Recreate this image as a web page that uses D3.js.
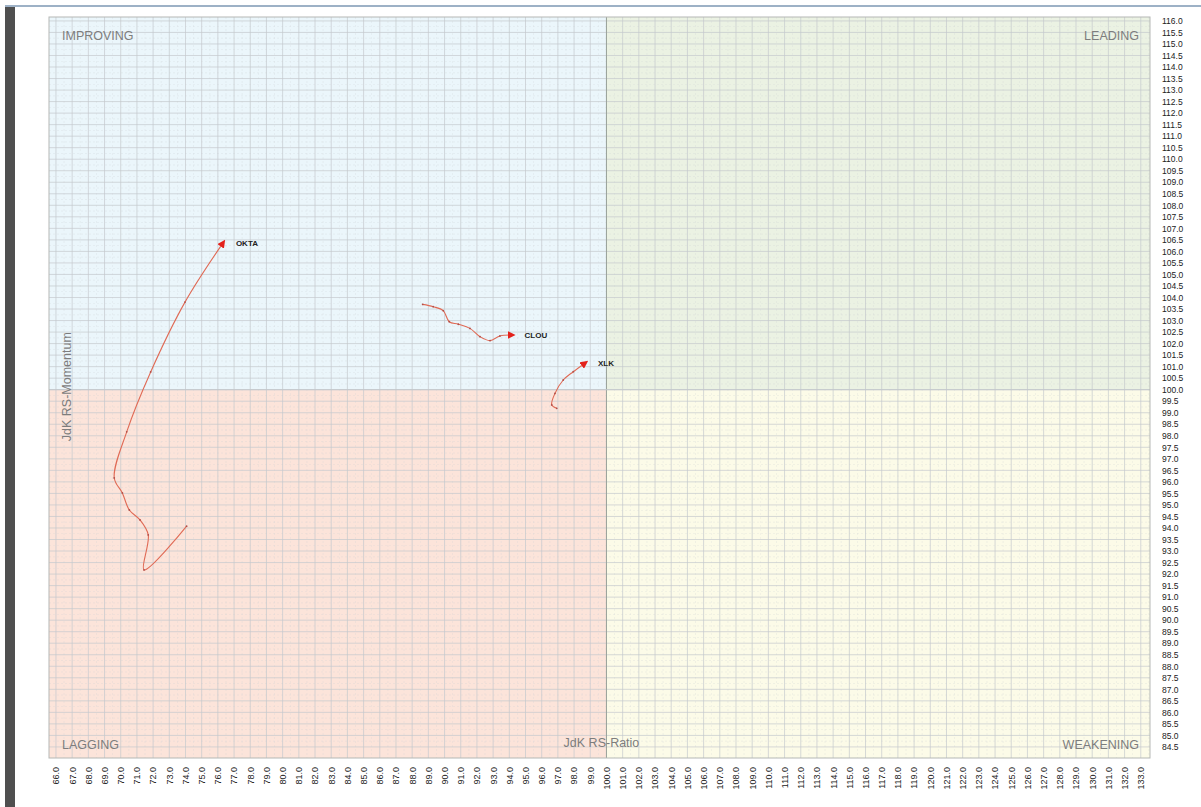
<!DOCTYPE html>
<html>
<head>
<meta charset="utf-8">
<script src="https://cdn.jsdelivr.net/npm/d3@7"></script>
<style>
  body { margin: 0; background: #fff; font-family: "Liberation Sans", Arial, sans-serif; }
</style>
</head>
<body>
<div id="rrg"></div>
<script>
// tails, oldest point first, head last
const oktaRatio = [74.07, 71.44, 71.70, 71.19, 70.53, 70.10, 69.60, 70.37, 71.85, 73.97, 76.31];
const oktaMomentum = [94.08, 92.18, 93.70, 94.35, 94.78, 95.52, 96.17, 98.17, 100.77, 103.80, 106.36];

const clouRatio = [88.65, 89.30, 89.92, 90.29, 90.85, 91.57, 92.19, 92.81, 93.42, 94.14];
const clouMomentum = [103.70, 103.60, 103.43, 102.95, 102.84, 102.66, 102.30, 102.13, 102.33, 102.37];

const xlkRatio = [96.93, 96.62, 96.82, 97.33, 97.95, 98.67];
const xlkMomentum = [99.19, 99.34, 99.84, 100.42, 100.78, 101.15];

const symbols = ['OKTA', 'CLOU', 'XLK'];

const xTicks = d3.range(66, 133.5, 1);      // 66.0 .. 133.0
const yTicks = d3.range(84.5, 116.25, 0.5);  // 84.5 .. 116.0

const quadrantNames = ['IMPROVING', 'LEADING', 'LAGGING', 'WEAKENING'];

const width = 1201;
const height = 807;
const plotLeft = 49;
const plotRight = 1150;
const plotTop = 17;
const plotBottom = 758;

window.onload = function() {
     drawChart();
};

function drawChart(){
     let svg = d3.select('#rrg')
                    .append('svg')
                         .attr('width', width)
                         .attr('height', height);

     const x = d3.scaleLinear().domain([65.57, 133.57]).range([plotLeft, plotRight]);
     const y = d3.scaleLinear().domain([84.02, 116.17]).range([plotBottom, plotTop]);

     // page frame bits
     svg.append('rect').attr('x', 5).attr('y', 7).attr('width', 10).attr('height', height)
          .attr('fill', '#4f4f4f');
     svg.append('rect').attr('x', 5).attr('y', 5).attr('width', width).attr('height', 2)
          .attr('fill', '#9db1c6');

     // quadrants
     const x100 = x(100), y100 = y(100);
     const quads = [
          {x: plotLeft, y: plotTop, w: x100 - plotLeft, h: y100 - plotTop, c: '#ebf6fb'},
          {x: x100, y: plotTop, w: plotRight - x100, h: y100 - plotTop, c: '#ebf2e3'},
          {x: plotLeft, y: y100, w: x100 - plotLeft, h: plotBottom - y100, c: '#fce4da'},
          {x: x100, y: y100, w: plotRight - x100, h: plotBottom - y100, c: '#fcfbe8'}
     ];
     svg.selectAll('rect.quad').data(quads).enter()
          .append('rect')
               .attr('class', 'quad')
               .attr('x', d => d.x).attr('y', d => d.y)
               .attr('width', d => d.w).attr('height', d => d.h)
               .attr('fill', d => d.c);

     // minor grid (dashed, faint)
     let grid = svg.append('g');
     grid.selectAll('line.vminor').data(xTicks.map(v => v + 0.5).filter(v => x(v) < plotRight)).enter()
          .append('line')
               .attr('x1', d => x(d)).attr('x2', d => x(d))
               .attr('y1', plotTop).attr('y2', plotBottom)
               .attr('stroke', '#cfd3d6').attr('stroke-width', 0.5)
               .attr('stroke-dasharray', '2,2').attr('opacity', 0.5);
     grid.selectAll('line.hminor').data(yTicks.map(v => v + 0.25).filter(v => y(v) > plotTop)).enter()
          .append('line')
               .attr('y1', d => y(d)).attr('y2', d => y(d))
               .attr('x1', plotLeft).attr('x2', plotRight)
               .attr('stroke', '#cfd3d6').attr('stroke-width', 0.5)
               .attr('stroke-dasharray', '2,2').attr('opacity', 0.5);

     // major grid
     grid.selectAll('line.v').data(xTicks).enter()
          .append('line')
               .attr('x1', d => x(d)).attr('x2', d => x(d))
               .attr('y1', plotTop).attr('y2', plotBottom)
               .attr('stroke', '#c4c9cd').attr('stroke-width', 0.7);
     grid.selectAll('line.h').data(yTicks).enter()
          .append('line')
               .attr('y1', d => y(d)).attr('y2', d => y(d))
               .attr('x1', plotLeft).attr('x2', plotRight)
               .attr('stroke', '#c4c9cd').attr('stroke-width', 0.7);

     // centre lines
     svg.append('line').attr('x1', x100).attr('x2', x100).attr('y1', plotTop).attr('y2', plotBottom)
          .attr('stroke', '#9aa39a').attr('stroke-width', 1);
     svg.append('line').attr('x1', plotLeft).attr('x2', plotRight).attr('y1', y100).attr('y2', y100)
          .attr('stroke', '#c3c8cc').attr('stroke-width', 1);

     // plot border
     svg.append('rect').attr('x', plotLeft).attr('y', plotTop)
          .attr('width', plotRight - plotLeft).attr('height', plotBottom - plotTop)
          .attr('fill', 'none').attr('stroke', '#b5b8b5').attr('stroke-width', 1);

     // right axis
     let yAxis = svg.append('g')
          .attr('transform', `translate(${plotRight + 8}, 0)`)
          .call(d3.axisRight(y).tickValues(yTicks).tickSize(0).tickPadding(4).tickFormat(d3.format('.1f')));
     yAxis.select('.domain').remove();
     yAxis.selectAll('text').attr('font-size', 8.5).attr('fill', '#222')
          .attr('font-family', '"Liberation Sans", Arial, sans-serif');

     // bottom axis, labels rotated
     let xAxis = svg.append('g')
          .attr('transform', `translate(0, ${plotBottom + 9})`)
          .call(d3.axisBottom(x).tickValues(xTicks).tickSize(0).tickFormat(d3.format('.1f')));
     xAxis.select('.domain').remove();
     xAxis.selectAll('text')
          .attr('font-size', 9).attr('fill', '#222')
          .attr('font-family', '"Liberation Sans", Arial, sans-serif')
          .attr('text-anchor', 'end')
          .attr('transform', 'rotate(-90)')
          .attr('x', 0).attr('y', 0).attr('dx', 0).attr('dy', '0.32em');

     // quadrant labels
     const labelStyle = sel => sel.attr('font-size', 12.5).attr('fill', '#7d7d7d')
          .attr('font-family', '"Liberation Sans", Arial, sans-serif');
     const qpos = [
          {t: quadrantNames[0], x: plotLeft + 13, y: plotTop + 23, a: 'start'},
          {t: quadrantNames[1], x: plotRight - 11, y: plotTop + 23, a: 'end'},
          {t: quadrantNames[2], x: plotLeft + 13, y: plotBottom - 9, a: 'start'},
          {t: quadrantNames[3], x: plotRight - 11, y: plotBottom - 9, a: 'end'}
     ];
     qpos.forEach(q => {
          svg.append('text').attr('x', q.x).attr('y', q.y).attr('text-anchor', q.a)
               .text(q.t).call(labelStyle);
     });
     svg.append('text').attr('x', x100 - 5).attr('y', plotBottom - 11)
          .attr('text-anchor', 'middle').text('JdK RS-Ratio').call(labelStyle);
     svg.append('text')
          .attr('transform', `translate(${plotLeft + 22}, ${y100 - 3}) rotate(-90)`)
          .attr('text-anchor', 'middle').text('JdK RS-Momentum').call(labelStyle);

     // tails
     svg.append('defs').append('marker')
          .attr('id', 'arrow')
          .attr('viewBox', '0 0 10 10')
          .attr('refX', 5).attr('refY', 5)
          .attr('markerWidth', 8).attr('markerHeight', 8)
          .attr('markerUnits', 'userSpaceOnUse')
          .attr('orient', 'auto')
          .append('path').attr('d', 'M0,0 L10,5 L0,10 z').attr('fill', '#e3211b');

     const tails = [
          {name: symbols[0], r: oktaRatio, m: oktaMomentum},
          {name: symbols[1], r: clouRatio, m: clouMomentum},
          {name: symbols[2], r: xlkRatio, m: xlkMomentum}
     ];
     const line = d3.line().curve(d3.curveCatmullRom.alpha(0.5)).x(d => x(d[0])).y(d => y(d[1]));

     tails.forEach(t => {
          const pts = t.r.map((v, i) => [v, t.m[i]]);
          svg.append('path')
               .attr('d', line(pts))
               .attr('fill', 'none')
               .attr('stroke', '#e06a55')
               .attr('stroke-width', 1.1)
               .attr('marker-end', 'url(#arrow)');
          svg.selectAll(null).data(pts.slice(0, -1)).enter()
               .append('circle')
                    .attr('cx', d => x(d[0])).attr('cy', d => y(d[1]))
                    .attr('r', 0.9).attr('fill', '#b0504a');
          const head = pts[pts.length - 1];
          svg.append('text')
               .attr('x', x(head[0]) + 13).attr('y', y(head[1]) + 3)
               .attr('font-size', 8).attr('font-weight', 'bold').attr('fill', '#222')
               .attr('font-family', '"Liberation Sans", Arial, sans-serif')
               .text(t.name);
     });
}
</script>
</body>
</html>
